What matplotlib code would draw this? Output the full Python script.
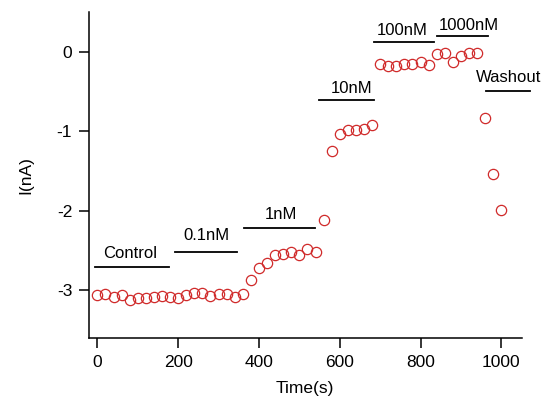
import matplotlib
matplotlib.use("Agg")
import matplotlib.pyplot as plt

plt.rcParams['font.family'] = ['Liberation Sans', 'DejaVu Sans']

# time (s) and current (nA)
times = [0, 20, 40, 60, 80, 100, 120, 140, 160, 180, 200, 220, 240, 260, 280, 300, 320, 340, 360,
         380, 400, 420, 440, 460, 480, 500, 520, 540,
         560,
         580, 600, 620, 640, 660, 680,
         700, 720, 740, 760, 780, 800, 820,
         840, 860, 880, 900, 920, 940,
         960, 980, 1000]
current = [-3.06, -3.05, -3.08, -3.06, -3.12, -3.09, -3.10, -3.08, -3.07, -3.08,
           -3.10, -3.06, -3.03, -3.03, -3.07, -3.04, -3.04, -3.08, -3.04,
           -2.87, -2.72, -2.66, -2.55, -2.54, -2.52, -2.56, -2.48, -2.51,
           -2.11,
           -1.25, -1.03, -0.98, -0.98, -0.97, -0.92,
           -0.15, -0.18, -0.18, -0.15, -0.15, -0.13, -0.16,
           -0.03, -0.02, -0.13, -0.05, -0.01, -0.02,
           -0.83, -1.54, -1.99]

# treatment bars: label, start, end, bar level
labels = ['Control', '0.1nM', '1nM', '10nM', '100nM', '1000nM', 'Washout']
bar_start = [-7, 193, 362, 549, 685, 840, 963]
bar_end = [178, 346, 538, 684, 833, 968, 1072]
bar_level = [-2.70, -2.51, -2.22, -0.60, 0.12, 0.20, -0.49]
label_x = [80, 270, 455, 629, 754, 919, 1018]
label_y = [-2.53, -2.31, -2.05, -0.46, 0.27, 0.33, -0.32]

fig = plt.figure(figsize=(5.59, 4.05), dpi=100)
ax = fig.add_axes([0.159, 0.165, 0.774, 0.805])

ax.plot(times, current, 'o', markersize=7.4, markerfacecolor='none',
        markeredgecolor='#d02a2a', markeredgewidth=0.9)

for lab, x0, x1, lvl, tx, ty in zip(labels, bar_start, bar_end, bar_level, label_x, label_y):
    ax.plot([x0, x1], [lvl, lvl], color='black', lw=1.3, clip_on=False)
    ax.text(tx, ty, lab, ha='center', va='center', fontsize=12, clip_on=False)

ax.set_xlim(-21, 1050)
ax.set_ylim(-3.6, 0.5)
ax.set_xticks([0, 200, 400, 600, 800, 1000])
ax.set_yticks([0, -1, -2, -3])
ax.set_yticklabels(['0', '-1', '-2', '-3'])
ax.spines['top'].set_visible(False)
ax.spines['right'].set_visible(False)
for s in ['left', 'bottom']:
    ax.spines[s].set_linewidth(1.1)
ax.tick_params(direction='out', length=7, width=1.1, labelsize=12.5, pad=5)
ax.set_xlabel('Time(s)', fontsize=12.5, labelpad=8)
ax.set_ylabel('I(nA)', fontsize=12.5, labelpad=17)

fig.savefig('out.png', dpi=100)
